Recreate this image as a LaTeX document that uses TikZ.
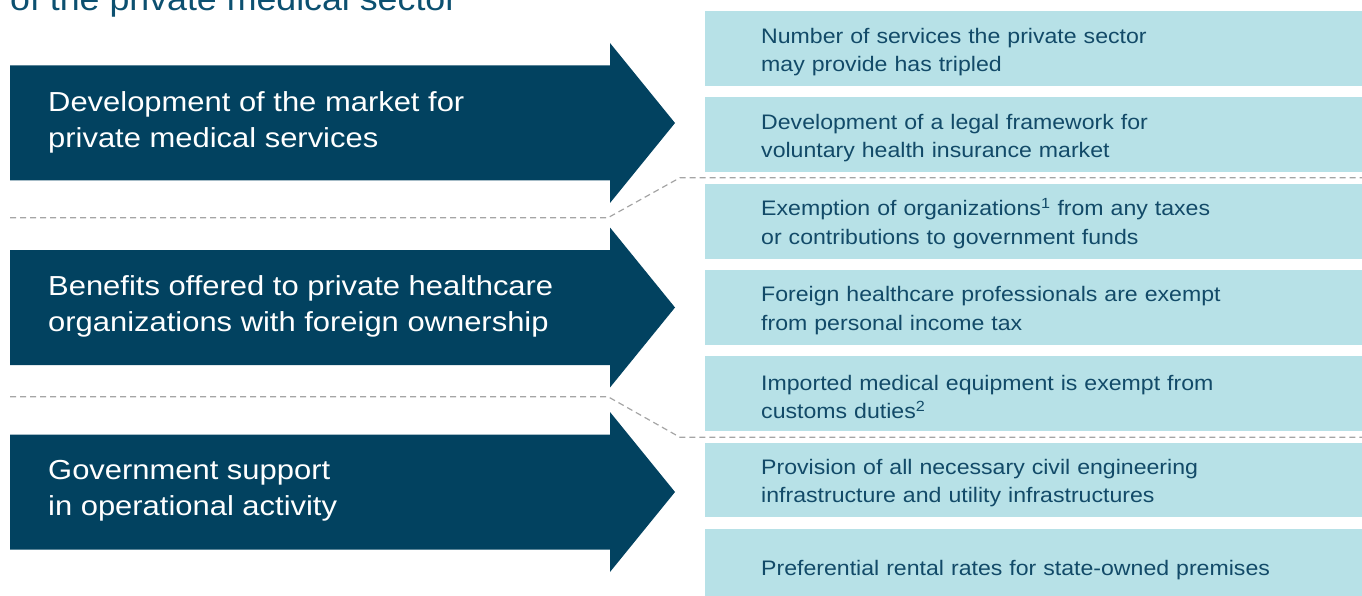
\documentclass[tikz,border=0pt]{standalone}
\usepackage{fontspec}
\setmainfont{Liberation Sans}[FakeStretch=1.1]
\newfontfamily\arrowfont{Liberation Sans}[FakeStretch=1.125]
\definecolor{arrowblue}{RGB}{2,66,96}
\definecolor{boxblue}{RGB}{183,225,231}
\definecolor{boxtext}{RGB}{18,74,104}
\definecolor{titleblue}{RGB}{12,80,112}
\definecolor{divgray}{RGB}{165,165,165}
\tikzset{
  arrowtext/.style={anchor=west, align=left, inner sep=0pt, text=white,
    font=\arrowfont\fontsize{27.5}{36}\selectfont},
  mbox/.style={anchor=north west, fill=boxblue, text=boxtext, align=left,
    text width=545pt, inner xsep=56pt, inner ysep=0pt, minimum height=74.7pt,
    text height=21.7pt, font=\fontsize{21}{28.4}\selectfont},
  divider/.style={draw=divgray, line width=1.2pt, dash pattern=on 6pt off 4pt}
}
\begin{document}
\begin{tikzpicture}[x=1pt,y=-1pt]
\useasboundingbox (0,0) rectangle (1362,596);

% Title, cut off at the top edge
\node [anchor=base west, inner sep=0pt, text=titleblue, font=\fontsize{32.5}{36}\selectfont] (title) at (10,11) {of the private medical sector};

% Dark arrows on the left
\foreach \cy in {123,307.5,492}
	\fill [arrowblue] (10,\cy-57.5) -- (610,\cy-57.5) -- (610,\cy-80) -- (675,\cy)
		-- (610,\cy+80) -- (610,\cy+57.5) -- (10,\cy+57.5) -- cycle;

% Labels of the arrows
\node [arrowtext] (a1) at (48,122) {Development of the market for\\private medical services};
\node [arrowtext] (a2) at (48,306.5) {Benefits offered to private healthcare\\organizations with foreign ownership};
\node [arrowtext] (a3) at (48,491) {Government support\\in operational activity};

% Measures in light boxes on the right
\foreach \i/\txt in {
	0/{Number of services the private sector\\may provide has tripled},
	1/{Development of a legal framework for\\voluntary health insurance market},
	2/{Exemption of organizations\textsuperscript{1} from any taxes\\or contributions to government funds},
	3/{Foreign healthcare professionals are exempt\\from personal income tax},
	4/{Imported medical equipment is exempt from\\customs duties\textsuperscript{2}},
	5/{Provision of all necessary civil engineering\\infrastructure and utility infrastructures},
	6/{Preferential rental rates for state-owned premises}}
	\node [mbox] (m\i) at (705,11+86.3*\i) {\txt};

% Dashed dividers between the groups
\coordinate (d1a) at (10,217.7);
\coordinate (d1b) at (608,217.7);
\coordinate (d1c) at (680,177.7);
\coordinate (d1d) at (1362,177.7);
\coordinate (d2a) at (10,396.7);
\coordinate (d2b) at (608,396.7);
\coordinate (d2c) at (680,437.3);
\coordinate (d2d) at (1362,437.3);
\draw [divider] (d1a) -- (d1b) -- (d1c) -- (d1d);
\draw [divider] (d2a) -- (d2b) -- (d2c) -- (d2d);

\end{tikzpicture}
\end{document}
